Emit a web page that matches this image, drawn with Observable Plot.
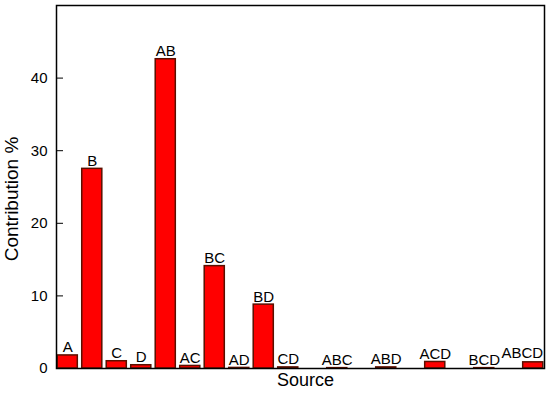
<!DOCTYPE html>
<html>
<head>
<meta charset="utf-8">
<script src="https://cdn.jsdelivr.net/npm/d3@7"></script>
<script src="https://cdn.jsdelivr.net/npm/@observablehq/plot@0.6"></script>
<style>
body { margin: 0; background: #fff; }
</style>
</head>
<body>
<div id="chart"></div>
<script>
const sources = ["A","B","C","D","AB","AC","BC","AD","BD","CD","ABC","ABD","ACD","BCD","ABCD"];
const contribution = [1.8, 27.5, 1.0, 0.45, 42.6, 0.35, 14.1, 0.08, 8.8, 0.15, 0.05, 0.15, 0.9, 0.05, 0.85];
const yTicks = [0, 10, 20, 30, 40];
// the three-and-four-letter sources are drawn with an empty slot before each
const spacedSources = ["ABC","ABD","ACD","BCD","ABCD"];

const data = sources.map((s, i) => ({source: s, value: contribution[i]}));
const xDomain = [];
sources.forEach((s, i) => {
  if (spacedSources.includes(s)) xDomain.push("gap" + i);
  xDomain.push(s);
});
const lastSource = sources[sources.length - 1];

const chart = Plot.plot({
  width: 550,
  height: 397,
  marginLeft: 56,
  marginRight: 6,
  marginTop: 5,
  marginBottom: 29,
  style: {fontFamily: "Arial, 'Liberation Sans', sans-serif", fontSize: "15px", color: "#000", background: "#fff"},
  x: {domain: xDomain, paddingInner: 0.18, paddingOuter: 0.05, round: false, axis: null},
  y: {domain: [0, 50], axis: null},
  marks: [
    Plot.barY(data, {x: "source", y: "value", fill: "#ff0000", stroke: "#5a1000", strokeWidth: 1.5}),
    Plot.text(data.filter(d => d.source !== lastSource), {x: "source", y: "value", text: "source", lineAnchor: "bottom", dy: -3, fontSize: 15, fill: "#000"}),
    Plot.text(data.filter(d => d.source === lastSource), {x: "source", y: "value", text: "source", lineAnchor: "bottom", dy: -4, dx: -11, fontSize: 15, fill: "#000"}),
    Plot.axisY({ticks: yTicks, tickSize: -7, tickPadding: 16, label: null, fontSize: 15}),
    Plot.frame({stroke: "#000", strokeWidth: 1.5}),
    Plot.text(["Source"], {frameAnchor: "bottom", dx: 5, dy: 17, fontSize: 18, fill: "#000"}),
    Plot.text(["Contribution %"], {frameAnchor: "left", textAnchor: "middle", dx: -45, dy: 12, rotate: -90, fontSize: 19, fill: "#000"})
  ]
});
document.getElementById("chart").appendChild(chart);
</script>
</body>
</html>
